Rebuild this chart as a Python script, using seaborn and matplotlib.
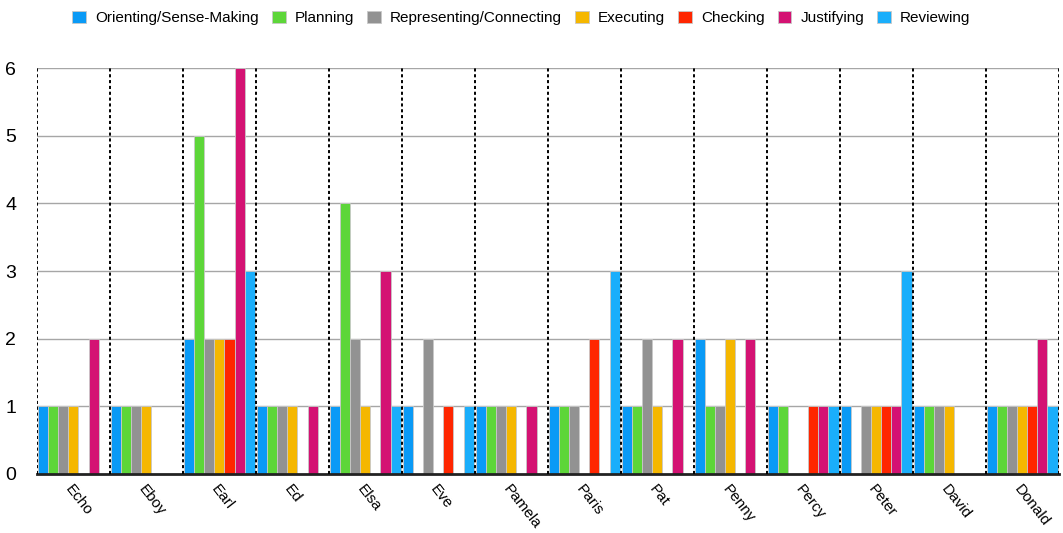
import matplotlib
matplotlib.use("Agg")
from matplotlib import pyplot as plt
import pandas as pd
import seaborn as sns

students = ["Echo", "Eboy", "Earl", "Ed", "Elsa", "Eve", "Pamela", "Paris",
            "Pat", "Penny", "Percy", "Peter", "David", "Donald"]
categories = ["Orienting/Sense-Making", "Planning", "Representing/Connecting",
              "Executing", "Checking", "Justifying", "Reviewing"]

orienting = [1, 1, 2, 1, 1, 1, 1, 1, 1, 2, 1, 1, 1, 1]
planning = [1, 1, 5, 1, 4, 0, 1, 1, 1, 1, 1, 0, 1, 1]
representing = [1, 1, 2, 1, 2, 2, 1, 1, 2, 1, 0, 1, 1, 1]
executing = [1, 1, 2, 1, 1, 0, 1, 0, 1, 2, 0, 1, 1, 1]
checking = [0, 0, 2, 0, 0, 1, 0, 2, 0, 0, 1, 1, 0, 1]
justifying = [2, 0, 6, 1, 3, 0, 1, 0, 2, 2, 1, 1, 0, 2]
reviewing = [0, 0, 3, 0, 1, 1, 0, 3, 0, 0, 1, 3, 0, 1]

colors = ["#0A9AF6", "#5DD639", "#929292", "#F5B700", "#FF2600", "#D41273", "#1AAEFB"]

series = [orienting, planning, representing, executing, checking, justifying, reviewing]
rows = []
for cat, vals in zip(categories, series):
    for s, v in zip(students, vals):
        rows.append({"student": s, "category": cat, "count": v})
df = pd.DataFrame(rows)

sns.set_style("white")
plt.rcParams["font.family"] = ["Liberation Sans", "DejaVu Sans"]
plt.rcParams["text.color"] = "black"
plt.rcParams["xtick.color"] = "black"
plt.rcParams["ytick.color"] = "black"

fig = plt.figure(figsize=(10.63, 5.33), dpi=100)
ax = fig.add_axes([0.0348, 0.1107, 0.9614, 0.7617])

sns.barplot(data=df, x="student", y="count", hue="category", order=students,
            hue_order=categories, palette=colors, saturation=1, width=0.96, gap=0,
            edgecolor="#c8c8c8", linewidth=0.6, ax=ax, legend=True)

ax.set_ylim(0, 6)
ax.set_xlim(-0.5, len(students) - 0.5)
ax.set_yticks(range(7))
for y in range(1, 7):
    ax.axhline(y, color="#a6a6a6", lw=1, zorder=0)
for i in range(len(students) + 1):
    ax.axvline(i - 0.5, color="black", lw=1.4, ls=(0, (1.6, 1.4)), zorder=3)

for sp in ["top", "right", "left"]:
    ax.spines[sp].set_visible(False)
ax.spines["bottom"].set_linewidth(2)
ax.spines["bottom"].set_color("#222222")

ax.set_xlabel("")
ax.set_ylabel("")
ax.tick_params(axis="y", length=0, labelsize=14, pad=15)
ax.tick_params(axis="x", length=0, labelsize=11, pad=6)
plt.setp(ax.get_xticklabels(), rotation=-52, ha="left", va="top", rotation_mode="anchor")
for lbl in ax.get_xticklabels():
    lbl.set_x(lbl.get_position()[0])

ax.legend(loc="upper center", bbox_to_anchor=(0.474, 1.175), ncol=7, frameon=False,
          fontsize=11, handlelength=0.9, handleheight=0.9, handletextpad=0.6,
          columnspacing=0.85)

fig.savefig("out.png", dpi=100)
